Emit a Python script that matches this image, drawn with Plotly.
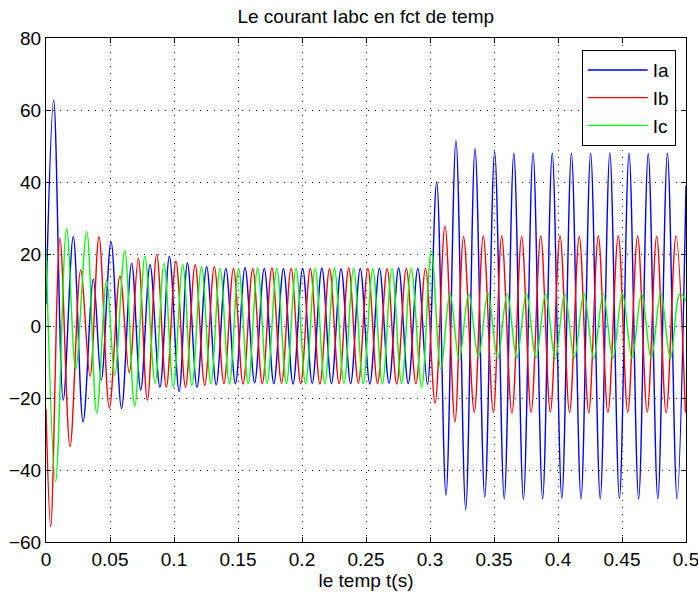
import plotly.graph_objects as go

# Three-phase currents Ia, Ib, Ic: successive peaks/troughs of each waveform (time in s, current in A)
t_a = [0.0, 0.0060, 0.0135, 0.0213, 0.0290, 0.0370, 0.0432, 0.0508, 0.0590, 0.0669,
       0.0740, 0.0813, 0.0890, 0.0964, 0.1040, 0.1105, 0.1180, 0.1255, 0.1330, 0.1405,
       0.1480, 0.1555, 0.1630, 0.1705, 0.1780, 0.1855, 0.1930, 0.2005, 0.2080, 0.2155,
       0.2230, 0.2305, 0.2380, 0.2455, 0.2530, 0.2605, 0.2680, 0.2755, 0.2830, 0.2905,
       0.2980, 0.3052, 0.3125, 0.3203, 0.3279, 0.3352, 0.3428, 0.3505, 0.3580, 0.3655,
       0.3730, 0.3805, 0.3880, 0.3955, 0.4030, 0.4105, 0.4180, 0.4255, 0.4330, 0.4405,
       0.4480, 0.4555, 0.4630, 0.4705, 0.4780, 0.4855, 0.4930, 0.5000]
i_a = [6.0, 62.8, -20.6, 24.8, -26.6, 13.0, -15.0, 23.4, -22.9, 17.4,
       -17.8, 17.0, -17.0, 19.3, -18.2, 17.5, -17.0, 16.5, -16.3, 16.0,
       -16.0, 16.2, -15.8, 16.0, -16.0, 15.9, -16.1, 16.0, -15.9, 16.1,
       -16.0, 15.9, -16.0, 16.0, -16.1, 16.0, -15.9, 16.1, -16.0, 16.0,
       -16.2, 40.0, -47.0, 51.5, -51.0, 49.3, -47.5, 48.4, -48.0, 48.0,
       -48.2, 48.1, -48.0, 48.0, -47.9, 48.0, -48.1, 48.0, -48.0, 48.1,
       -47.9, 48.0, -48.0, 47.9, -48.1, 48.0, -48.0, 39.0]

t_b = [0.0, 0.0037, 0.0109, 0.0188, 0.0271, 0.0344, 0.0414, 0.0495, 0.0578, 0.0650,
       0.0721, 0.0792, 0.0865, 0.0940, 0.1015, 0.1090, 0.1165, 0.1240, 0.1315, 0.1390,
       0.1465, 0.1540, 0.1615, 0.1690, 0.1765, 0.1840, 0.1915, 0.1990, 0.2065, 0.2140,
       0.2215, 0.2290, 0.2365, 0.2440, 0.2515, 0.2590, 0.2665, 0.2740, 0.2815, 0.2890,
       0.2965, 0.3040, 0.3117, 0.3195, 0.3262, 0.3346, 0.3416, 0.3495, 0.3560, 0.3640,
       0.3716, 0.3790, 0.3865, 0.3940, 0.4016, 0.4090, 0.4166, 0.4240, 0.4315, 0.4390,
       0.4471, 0.4545, 0.4622, 0.4697, 0.4771, 0.4845, 0.4922, 0.4995]
i_b = [-23.0, -55.7, 24.4, -33.5, 15.6, -14.0, 24.8, -22.8, 13.9, -13.0,
       18.8, -20.6, 19.9, -17.0, 18.0, -17.0, 17.0, -16.5, 16.5, -16.0,
       16.0, -16.1, 15.9, -16.0, 16.1, -15.9, 16.0, -16.0, 16.0, -16.1,
       15.9, -16.0, 16.1, -15.9, 16.0, -16.0, 15.9, -16.1, 16.0, -16.0,
       16.0, -21.4, 27.8, -26.6, 24.8, -24.0, 25.0, -24.0, 25.0, -24.2,
       24.9, -24.0, 25.0, -23.9, 25.0, -24.0, 24.9, -24.1, 25.0, -24.0,
       25.1, -24.0, 25.0, -24.0, 24.9, -24.1, 25.0, -24.0]

t_c = [0.0, 0.0075, 0.0161, 0.0232, 0.0318, 0.0396, 0.0474, 0.0537, 0.0615, 0.0693,
       0.0773, 0.0852, 0.0922, 0.0995, 0.1068, 0.1140, 0.1215, 0.1288, 0.1360, 0.1433,
       0.1505, 0.1580, 0.1653, 0.1728, 0.1803, 0.1878, 0.1953, 0.2028, 0.2103, 0.2178,
       0.2253, 0.2328, 0.2403, 0.2478, 0.2553, 0.2628, 0.2703, 0.2778, 0.2853, 0.2935,
       0.3010, 0.3085, 0.3156, 0.3228, 0.3302, 0.3378, 0.3453, 0.3528, 0.3603, 0.3678,
       0.3753, 0.3828, 0.3903, 0.3978, 0.4053, 0.4128, 0.4203, 0.4278, 0.4353, 0.4428,
       0.4503, 0.4578, 0.4653, 0.4728, 0.4803, 0.4878, 0.4953, 0.5000]
i_c = [22.0, -43.2, 27.1, -12.0, 26.2, -24.2, 12.8, -13.6, 20.9, -22.4,
       19.3, -15.9, 17.4, -17.0, 17.0, -16.5, 16.5, -16.0, 16.0, -16.1,
       15.9, -16.0, 16.1, -15.9, 16.0, -16.0, 16.0, -16.1, 15.9, -16.0,
       16.1, -15.9, 16.0, -16.0, 15.9, -16.1, 16.0, -16.0, 16.0, -17.0,
       21.0, -12.0, 9.1, -9.4, 9.0, -8.8, 9.2, -9.0, 9.0, -8.9,
       9.1, -9.0, 9.0, -9.1, 9.0, -8.9, 9.1, -9.0, 9.0, -9.0,
       9.1, -8.9, 9.0, -9.0, 9.1, -9.0, 9.0, 7.0]

x_ticks = [0, 0.05, 0.1, 0.15, 0.2, 0.25, 0.3, 0.35, 0.4, 0.45, 0.5]
x_labels = ["0", "0.05", "0.1", "0.15", "0.2", "0.25", "0.3", "0.35", "0.4", "0.45", "0.5"]
y_ticks = [-60, -40, -20, 0, 20, 40, 60, 80]

FONT = "Liberation Sans, Arial, sans-serif"

fig = go.Figure()
for name, t, i, color in [("Ia", t_a, i_a, "#0000FF"),
                          ("Ib", t_b, i_b, "#FF0000"),
                          ("Ic", t_c, i_c, "#00FF00")]:
    fig.add_trace(go.Scatter(
        x=t, y=i, name=name, mode="lines",
        line=dict(color=color, width=1.4, shape="spline", smoothing=1.0),
    ))

axis_common = dict(
    showline=True, linecolor="black", linewidth=1, mirror="allticks",
    ticks="inside", ticklen=5, tickcolor="black",
    showgrid=True, gridcolor="#222222", gridwidth=1, griddash="1px,6px",
    zeroline=False, ticklabeloverflow="allow",
    tickfont=dict(family=FONT, size=19, color="black"),
)

fig.update_layout(
    width=698, height=596,
    margin=dict(l=46, r=12, t=38, b=54, autoexpand=False),
    paper_bgcolor="white", plot_bgcolor="white",
    font=dict(family=FONT, size=19, color="black"),
    title=dict(text="Le courant Iabc en fct de temp", x=0.524, xanchor="center",
               y=0.972, yanchor="middle", yref="container",
               font=dict(family=FONT, size=19, color="black")),
    xaxis=dict(range=[0, 0.5], tickvals=x_ticks, ticktext=x_labels,
               title=dict(text="le temp t(s)", standoff=4,
                          font=dict(family=FONT, size=19, color="black")),
               **axis_common),
    yaxis=dict(range=[-60, 80], tickvals=y_ticks, **axis_common),
    legend=dict(x=0.984, xanchor="right", y=0.976, yanchor="top",
                bgcolor="white", bordercolor="black", borderwidth=1,
                font=dict(family=FONT, size=19, color="black"),
                itemwidth=60, tracegroupgap=0),
    showlegend=True,
)

fig.write_html("out.html")
